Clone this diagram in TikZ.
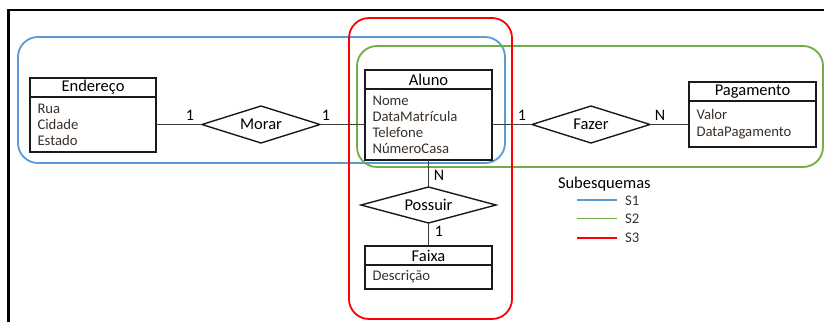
\documentclass[tikz,border=0pt]{standalone}
\usepackage{fontspec}
\setmainfont{Carlito}
\usetikzlibrary{shapes.geometric}
\definecolor{sOne}{HTML}{5B9BD5}
\definecolor{sTwo}{HTML}{70AD47}
\definecolor{sThree}{HTML}{FF0000}
\definecolor{attr}{HTML}{3A3028}
\definecolor{ink}{HTML}{1A1A1A}
\begin{document}
\begin{tikzpicture}[x=1pt,y=-1pt,
  every node/.style={inner sep=0pt,outer sep=0pt},
  enttitle/.style={draw=ink,line width=1.4pt,rectangle,anchor=north west,
    minimum height=19pt,font=\fontsize{16.5}{19}\selectfont,text=black},
  entbody/.style={draw=ink,line width=1.4pt,rectangle,anchor=north west,
    inner xsep=7.5pt,text width=111pt,align=left,
    font=\fontsize{14.7}{16}\selectfont,text=attr},
  rel/.style={draw=ink,line width=1.4pt,shape=diamond,inner sep=0pt,
    font=\fontsize{16.5}{19}\selectfont},
  card/.style={font=\fontsize{16}{19}\selectfont,text=black},
  link/.style={draw=ink!85,line width=1.4pt},
  group/.style={line width=1.8pt,rounded corners=20pt},
  legtext/.style={anchor=west,font=\fontsize{14.7}{16}\selectfont,text=black!80},
]
\useasboundingbox (0,0) rectangle (824,322);

% page frame
\draw[line width=2.6pt,black] (8.5,322) -- (8.5,10) -- (824,10);

% subschema outlines
\draw[group,draw=sOne] (18,37) rectangle (505,163);
\draw[group,draw=sTwo] (357,46) rectangle (823,167);
\draw[group,draw=sThree] (349,18) rectangle (512,319);

% entities
\node[enttitle,minimum width=126pt] (endT) at (30,78) {Endereço};
\node[entbody,minimum height=55pt] (endB) at (30,97) {Rua\\Cidade\\Estado};

\node[enttitle,minimum width=127pt] (aluT) at (365,70) {Aluno};
\node[entbody,minimum height=71pt,text width=112pt] (aluB) at (365,89)
  {Nome\\DataMatrícula\\Telefone\\NúmeroCasa};

\node[enttitle,minimum width=127pt] (pagT) at (689,82) {Pagamento};
\node[entbody,minimum height=46pt,text width=112pt] (pagB) at (689,101)
  {Valor\\[1pt]DataPagamento\\[2pt]};

\node[enttitle,minimum width=127pt] (faiT) at (365,246) {Faixa};
\node[entbody,minimum height=24pt,text width=112pt] (faiB) at (365,265) {Descrição};

% relationships
\node[rel,minimum width=118pt,minimum height=37pt,aspect=3.2] (morar) at (261,124.5) {Morar};
\node[rel,minimum width=118pt,minimum height=37pt,aspect=3.2] (fazer) at (591,124.5) {Fazer};
\node[rel,minimum width=135pt,minimum height=36pt,aspect=3.75] (possuir) at (428.5,205) {Possuir};

% connectors
\draw[link] (endB.east |- morar.west) -- (morar.west);
\draw[link] (morar.east) -- (morar.east -| aluB.west);
\draw[link] (aluB.east |- fazer.west) -- (fazer.west);
\draw[link] (fazer.east) -- (fazer.east -| pagB.west);
\draw[link] (aluB.south) -- (possuir.north);
\draw[link] (possuir.south) -- (faiT.north);

% cardinalities
\node[card] (c1) at (190,115) {1};
\node[card] (c2) at (326,115) {1};
\node[card] (c3) at (522,115) {1};
\node[card] (c4) at (660,115) {N};
\node[card] (c5) at (439,175) {N};
\node[card] (c6) at (439,231) {1};

% legend
\node[anchor=west,font=\fontsize{16.5}{19}\selectfont,text=black] (leg) at (558,184.5) {Subesquemas};
\coordinate (l1a) at (577,200); \coordinate (l1b) at (617,200);
\coordinate (l2a) at (577,218.5); \coordinate (l2b) at (617,218.5);
\coordinate (l3a) at (577,238); \coordinate (l3b) at (617,238);
\draw[line width=1.8pt,sOne] (l1a) -- (l1b);
\draw[line width=1.8pt,sTwo] (l2a) -- (l2b);
\draw[line width=1.8pt,sThree] (l3a) -- (l3b);
\node[legtext] (s1) at (625,200.5) {S1};
\node[legtext] (s2) at (625,219) {S2};
\node[legtext] (s3) at (625,238) {S3};
\end{tikzpicture}
\end{document}
